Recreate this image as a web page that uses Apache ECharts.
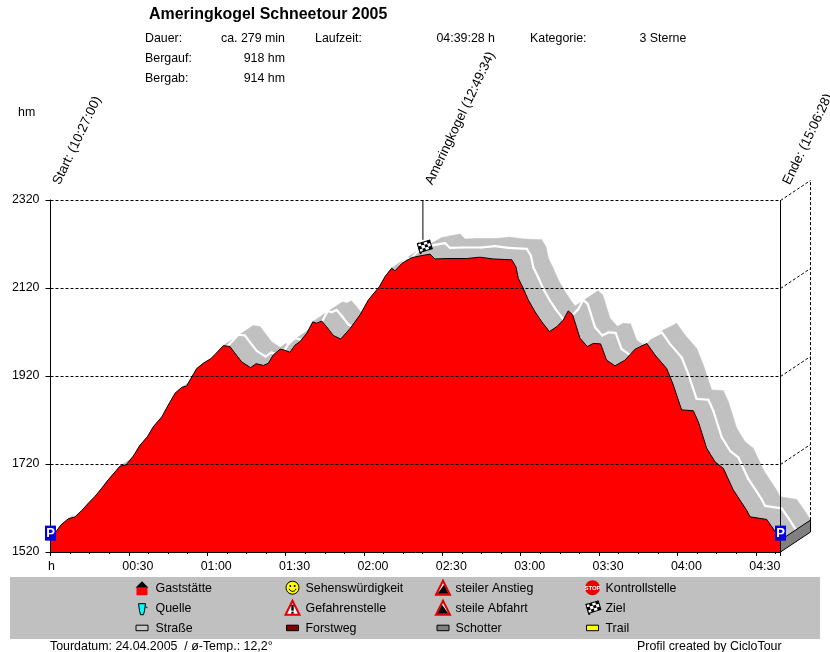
<!DOCTYPE html>
<html><head><meta charset="utf-8">
<style>html,body{margin:0;padding:0;background:#fff}#c{width:830px;height:652px}</style>
<script src="https://cdn.jsdelivr.net/npm/echarts@6/dist/echarts.min.js"></script>
</head><body><div id="c"></div>
<script>
const minutes = [0,2.1,3.9,6.7,9.4,11.9,14.5,17.0,19.6,22.1,24.7,26.6,28.9,31.7,34.3,37.1,39.4,42.6,45.1,47.7,50.2,52.1,54.1,56.0,58.5,61.1,63.0,66.2,68.7,70.6,73.2,76.6,78.7,81.5,83.4,85.3,87.9,89.4,91.7,93.6,95.5,98.1,100.4,101.9,103.8,105.7,108.3,111.1,114.7,118.5,121.7,125.9,128.1,130.6,131.9,134.5,138.3,141.5,145.3,147.2,151.7,159.3,164.4,169.5,176.6,178.2,179.1,181.0,182.9,185.5,188.1,191.0,193.8,196.3,198.2,199.9,202.7,205.5,207.8,210.6,212.9,216.1,219.9,223.8,228.3,231.4,235.9,238.4,241.6,246.1,248.0,251.2,254.4,257.6,261.4,266.5,267.8,274.2,277.0,279.47];
const elevation = [1547,1566,1581,1595,1600,1614,1631,1646,1665,1684,1702,1715,1718,1738,1763,1782,1805,1827,1854,1881,1894,1897,1918,1937,1949,1958,1969,1989,1987,1972,1952,1939,1948,1944,1949,1968,1981,1979,1974,1990,1998,2017,2043,2040,2045,2032,2012,2004,2028,2059,2093,2123,2146,2165,2159,2176,2189,2193,2197,2186,2187,2187,2190,2186,2184,2168,2142,2119,2093,2066,2043,2021,2032,2047,2068,2059,2006,1987,1994,1993,1956,1943,1956,1981,1994,1968,1937,1900,1843,1841,1816,1756,1725,1710,1661,1615,1600,1594,1570,1547];
const yTicks = [1520,1720,1920,2120,2320];
const xTickLabels = ['h','00:30','01:00','01:30','02:00','02:30','03:00','03:30','04:00','04:30'];
const markerNames = ['Start: (10:27:00)','Ameringkogel (12:49:34)','Ende: (15:06:28)'];
const markerMinutes = [0,142.57,279.47];
const summitElevation = 2193;
const infoLabels = ['Dauer:','Bergauf:','Bergab:'];
const infoValues = ['ca. 279 min','918 hm','914 hm'];
const legendColumns = [
  ['Gaststätte','Quelle','Straße'],
  ['Sehenswürdigkeit','Gefahrenstelle','Forstweg'],
  ['steiler Anstieg','steile Abfahrt','Schotter'],
  ['Kontrollstelle','Ziel','Trail']
];

const FONT = '"Liberation Sans", Arial, sans-serif';
const TXT = 12.4;
const xMax = 279.47, DX = 30, DY = -20;
const profile = minutes.map((m,i)=>[m,elevation[i]]);

function T(text,x,y,o){o=o||{};return {type:'text',x:x,y:y+0.7,z:o.z||20,silent:true,style:{text:text,fill:o.fill||'#000',fontFamily:FONT,fontSize:o.size||TXT,fontWeight:o.weight||'normal',align:o.align||'left',verticalAlign:'middle'}};}
function poly(points,fill,stroke,lw,z){return {type:'polygon',z:z||20,silent:true,shape:{points:points},style:{fill:fill,stroke:stroke||null,lineWidth:lw||1}};}
function rect(x,y,w,h,fill,stroke,z){return {type:'rect',z:z||20,silent:true,shape:{x:x,y:y,width:w,height:h},style:{fill:fill,stroke:stroke||null,lineWidth:1}};}
function line(x1,y1,x2,y2,lw,z,c){return {type:'line',z:z||20,silent:true,shape:{x1:x1,y1:y1,x2:x2,y2:y2},style:{stroke:c||'#000',lineWidth:lw||1}};}
function circle(cx,cy,r,fill,stroke,z){return {type:'circle',z:z||20,silent:true,shape:{cx:cx,cy:cy,r:r},style:{fill:fill,stroke:stroke||null,lineWidth:1}};}

function flag(x,y){ // x,y = foot of the pole
  const cells=[];
  const w=3.2,h=3;
  for(let r=0;r<3;r++)for(let c=0;c<4;c++){
    cells.push({type:'rect',z:21,shape:{x:c*w,y:r*h,width:w,height:h},style:{fill:(r+c)%2?'#000':'#fff'}});
  }
  cells.push({type:'rect',z:22,shape:{x:0,y:0,width:4*w,height:3*h},style:{fill:null,stroke:'#000',lineWidth:1}});
  return {type:'group',x:x,y:y,silent:true,children:[
    {type:'line',z:21,shape:{x1:0,y1:0,x2:-3,y2:-11},style:{stroke:'#000',lineWidth:2}},
    {type:'group',x:-3.5,y:-10,rotation:0.3,children:cells}
  ]};
}

const iconDraw = {
  'Gaststätte':(x,y)=>[poly([[x-6.5,y],[x,y-6.5],[x+6.5,y]],'#000'),rect(x-5.5,y,11,7.5,'#f00')],
  'Quelle':(x,y)=>[poly([[x-3.5,y-4],[x+3.5,y-4],[x+2.5,y+3],[x+1.5,y+7],[x-1.5,y+7],[x-2.5,y+3]],'#0ff','#000'),line(x+3.5,y-1,x+5.5,y,1)],
  'Straße':(x,y)=>[rect(x-6,y-2.5,12,5.5,'#c8c8c8','#000')],
  'Sehenswürdigkeit':(x,y)=>[circle(x,y,6.5,'#ff0','#000'),circle(x-2.2,y-1.6,1,'#000'),circle(x+2.2,y-1.6,1,'#000'),
    {type:'arc',z:20,silent:true,shape:{cx:x,cy:y,r:3.6,startAngle:0.3,endAngle:2.85},style:{stroke:'#000',lineWidth:1,fill:null}}],
  'Gefahrenstelle':(x,y)=>[poly([[x,y-7],[x+7,y+7],[x-7,y+7]],'#fff','#e00000',2),rect(x-1.2,y-3,2.4,6,'#000'),rect(x-1.2,y+4,2.4,2,'#000')],
  'Forstweg':(x,y)=>[rect(x-6,y-2.5,12,5.5,'#800000','#000')],
  'steiler Anstieg':(x,y)=>[poly([[x,y-7],[x+7,y+7],[x-7,y+7]],'#fff','#e00000',2),poly([[x+1,y-3],[x+5.5,y+6],[x-5.5,y+6]],'#000')],
  'steile Abfahrt':(x,y)=>[poly([[x,y-7],[x+7,y+7],[x-7,y+7]],'#fff','#e00000',2),poly([[x-1,y-3],[x+5.5,y+6],[x-5.5,y+6]],'#000')],
  'Schotter':(x,y)=>[rect(x-6,y-2.5,12,5.5,'#808080','#000')],
  'Kontrollstelle':(x,y)=>[circle(x,y,7.5,'#e80000'),T('STOP',x,y-0.5,{size:6,weight:'bold',align:'center',fill:'#fff',z:21})],
  'Ziel':(x,y)=>[flag(x-3,y+7)],
  'Trail':(x,y)=>[rect(x-6,y-2.5,12,5.5,'#ffff00','#000')]
};

const graphics = [];
// header
graphics.push(T('Ameringkogel Schneetour 2005',149,14,{size:15.95,weight:'bold'}));
infoLabels.forEach((t,i)=>{
  graphics.push(T(t,145,37.7+20*i));
  graphics.push(T(infoValues[i],285,37.7+20*i,{align:'right'}));
});
graphics.push(T('Laufzeit:',315,37.7));
graphics.push(T('04:39:28 h',495,37.7,{align:'right'}));
graphics.push(T('Kategorie:',530,37.7));
graphics.push(T('3 Sterne',639.5,37.7));
graphics.push(T('hm',18,112));
// legend
graphics.push(rect(10,577,810,62,'#c0c0c0',null,10));
const colIcon=[142,292.5,443,592.5], colText=[155.5,305.5,455.5,605.5];
legendColumns.forEach((col,c)=>col.forEach((name,r)=>{
  const y=587.7+20*r;
  iconDraw[name](colIcon[c],y).forEach(e=>graphics.push(e));
  graphics.push(T(name,colText[c],y));
}));
graphics.push(T('Tourdatum: 24.04.2005  / ø-Temp.: 12,2°',50,645.7));
graphics.push(T('Profil created by CicloTour',637,645.7));

const dash=[3,2];
const option = {
  animation:false,
  backgroundColor:'#fff',
  grid:{left:50.5,top:200,width:730,height:352,containLabel:false},
  xAxis:{type:'value',min:0,max:xMax,interval:30,z:6,
    axisLine:{show:true,onZero:false,lineStyle:{color:'#000',width:1}},
    axisTick:{show:true,length:4,lineStyle:{color:'#000'}},
    minorTick:{show:true,splitNumber:4,length:2,lineStyle:{color:'#000'}},
    splitLine:{show:false},minorSplitLine:{show:false},
    axisLabel:{margin:9,showMaxLabel:false,hideOverlap:false,color:'#000',fontFamily:FONT,fontSize:TXT,
      formatter:v=>{const i=v/30;const t=Number.isInteger(i)?xTickLabels[i]:'';return t?(i===0?'{h|'+t+'}':'{t|'+t+'}'):'';},
      rich:{h:{fontFamily:FONT,fontSize:TXT,color:'#000',padding:[0,0,0,2]},t:{fontFamily:FONT,fontSize:TXT,color:'#000',padding:[0,0,0,18]}}}
  },
  yAxis:{type:'value',min:1520,max:2320,z:6,
    axisLine:{show:true,onZero:false,lineStyle:{color:'#000',width:1}},
    axisTick:{show:true,length:5,customValues:yTicks,lineStyle:{color:'#000'}},
    splitLine:{show:false},
    axisLabel:{margin:11,customValues:yTicks,color:'#000',fontFamily:FONT,fontSize:TXT,padding:[2,0,0,0],formatter:v=>String(v)}
  },
  graphic:graphics,
  series:[
    {type:'custom',name:'road',z:1,clip:false,silent:true,data:profile,encode:{x:0,y:1},
      renderItem:(p,api)=>{
        const i=p.dataIndex;
        if(i===0)return;
        const a=api.coord(profile[i-1]),b=api.coord(profile[i]);
        return {type:'polygon',shape:{points:[a,b,[b[0]+DX,b[1]+DY],[a[0]+DX,a[1]+DY]]},
          style:{fill:'#c0c0c0',stroke:'#c0c0c0',lineWidth:0.6}};
      }},
    {type:'custom',name:'centre',z:2,clip:false,silent:true,data:profile,encode:{x:0,y:1},
      renderItem:(p,api)=>{
        const i=p.dataIndex;
        if(i===0)return;
        const a=api.coord(profile[i-1]),b=api.coord(profile[i]);
        return {type:'line',shape:{x1:a[0]+DX/2,y1:a[1]+DY/2+(-1),x2:b[0]+DX/2,y2:b[1]+DY/2+(-1)},
          style:{stroke:'#fff',lineWidth:2.2,lineCap:'round'}};
      }},
    {type:'line',name:'Höhe',z:3,data:profile,symbol:'none',smooth:false,clip:true,silent:true,
      lineStyle:{color:'#000',width:1},areaStyle:{color:'#ff0000',opacity:1,origin:'start'},itemStyle:{color:'#000'}},
    {type:'custom',name:'grid',z:4,clip:false,silent:true,data:yTicks.map(v=>[xMax,v]),encode:{x:0,y:1},
      renderItem:(p,api)=>{
        const v=api.value(1),a=api.coord([0,v]),b=api.coord([xMax,v]);
        if(v===yTicks[0]){
          const t=api.coord([xMax,elevation[elevation.length-1]]);
          return {type:'group',children:[
            {type:'polygon',shape:{points:[b,[b[0]+DX,b[1]+DY],[t[0]+DX,t[1]+DY],t]},style:{fill:'#808080',stroke:'#000',lineWidth:1}},
            {type:'line',shape:{x1:t[0]+DX,y1:t[1]+DY,x2:t[0]+DX,y2:api.coord([xMax,2320])[1]+DY},style:{stroke:'#000',lineWidth:1,lineDash:dash}},
            {type:'line',shape:{x1:b[0],y1:b[1],x2:b[0],y2:api.coord([xMax,2320])[1]},style:{stroke:'#000',lineWidth:1}}
          ]};
        }
        return {type:'group',children:[
          {type:'line',shape:{x1:a[0],y1:a[1]+0.5,x2:b[0],y2:b[1]+0.5},style:{stroke:'#000',lineWidth:1,lineDash:dash}},
          {type:'line',shape:{x1:b[0],y1:b[1]+0.5,x2:b[0]+DX,y2:b[1]+DY+0.5},style:{stroke:'#000',lineWidth:1,lineDash:dash}}
        ]};
      }},
    {type:'custom',name:'markers',z:7,clip:false,silent:true,data:markerMinutes.map((m,i)=>[m,i]),encode:{x:0},
      renderItem:(p,api)=>{
        const i=p.dataIndex,m=markerMinutes[i],top=api.coord([m,2320]);
        const kids=[{type:'text',x:top[0]+6,y:top[1]-16,rotation:64.5*Math.PI/180,
          style:{text:markerNames[i],fontFamily:FONT,fontSize:13.3,fill:'#000',align:'left',verticalAlign:'middle'}}];
        if(i===1){
          const s=api.coord([m,summitElevation]);
          kids.push({type:'line',shape:{x1:top[0],y1:top[1],x2:top[0],y2:s[1]-16},style:{stroke:'#000',lineWidth:1}});
          kids.push(flag(s[0]-2,s[1]-2));
        } else {
          const e=api.coord([m,elevation[i===0?0:elevation.length-1]]);
          kids.push({type:'rect',shape:{x:e[0]-5.5,y:e[1]-14.5,width:11,height:15},style:{fill:'#0000e0'}});
          kids.push({type:'text',x:e[0],y:e[1]-6.5,style:{text:'P',fontFamily:FONT,fontSize:13,fontWeight:'bold',fill:'#fff',align:'center',verticalAlign:'middle'}});
        }
        return {type:'group',children:kids};
      }}
  ]
};
echarts.init(document.getElementById('c'),null,{renderer:'canvas'}).setOption(option);
</script></body></html>
